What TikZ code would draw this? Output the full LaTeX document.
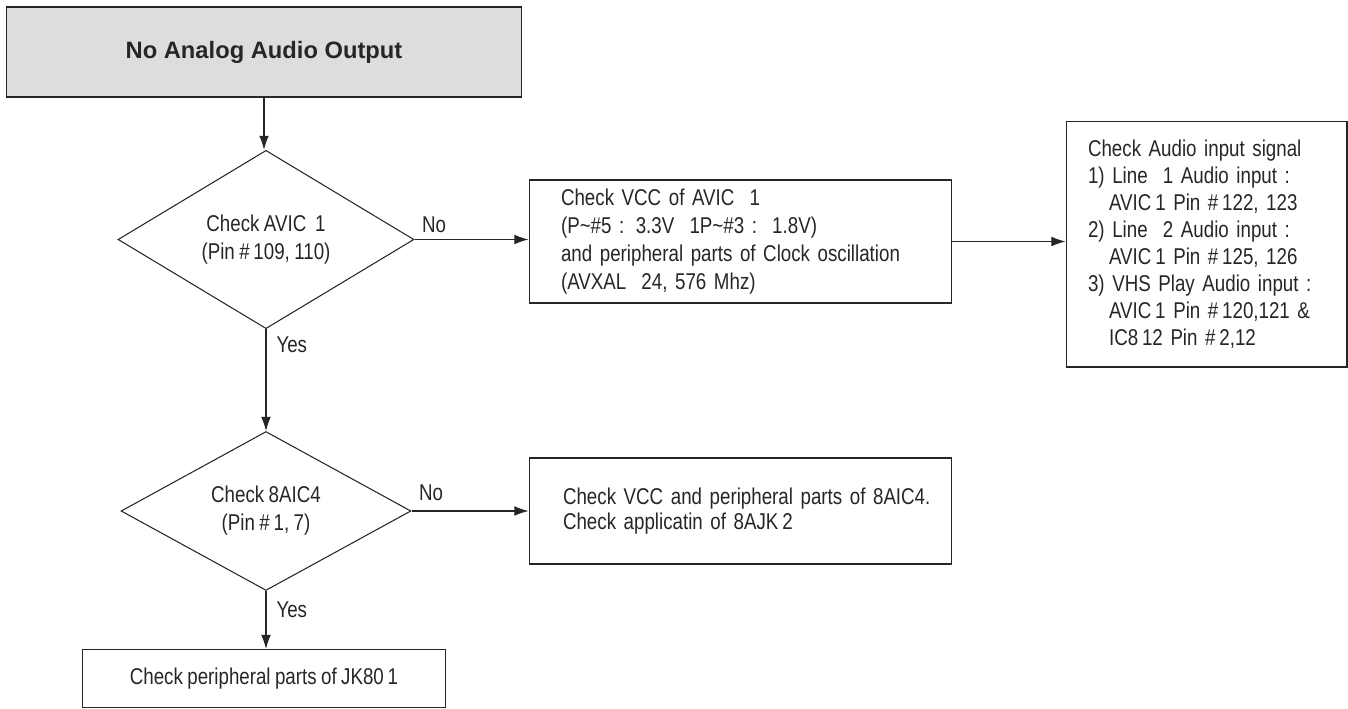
\documentclass[tikz,border=0pt]{standalone}
\usepackage{fontspec}
\setmainfont{Liberation Sans}[FakeStretch=0.82, WordSpace=0.85]
\newfontfamily\titlefont{Liberation Sans}
\usetikzlibrary{shapes.geometric,arrows.meta}
\definecolor{titlegray}{HTML}{DCDDDF}

\begin{document}
\begin{tikzpicture}[x=0.02cm, y=-0.02cm, line width=0.6pt, color=black!85,
  >={Latex[length=8pt,width=5.5pt]},
  txt/.style={font=\fontsize{13}{#1}\selectfont},
  txt/.default=16pt,
  box/.style={draw, rectangle, inner ysep=0pt, align=left},
  chk/.style={draw, diamond, inner sep=0pt, align=center, txt},
  lbl/.style={inner sep=0pt, anchor=base west, txt}]
  \useasboundingbox (0,0) rectangle (1348,709);

  \node[draw, fill=titlegray, minimum width=10.32cm, minimum height=1.8cm,
    font=\titlefont\bfseries\fontsize{13.5}{16}\selectfont] (start) at (264,52) {No Analog Audio Output};

  % decisions
  \node[chk, minimum width=5.92cm, minimum height=3.38cm] (chk1) at (266,239.5)
    {Check AVIC\ \ 1\\(Pin \#\,109, 110)};
  \node[chk, minimum width=5.8cm, minimum height=3.16cm] (chk2) at (266,511)
    {Check 8AIC4\\(Pin \#\,1, 7)};

  % actions
  \node[box, txt, text width=7.18cm, inner xsep=0.64cm, minimum height=2.46cm] (vcc1) at (740.5,241.5)
    {Check VCC of AVIC\ \ 1\\
     (P\textasciitilde\#5 : 3.3V\ \ 1P\textasciitilde\#3 :\ \ 1.8V)\\
     and peripheral parts of Clock oscillation\\
     (AVXAL\ \ 24, 576 Mhz)};
  \node[box, txt=15.4pt, text width=4.74cm, inner xsep=0.44cm, minimum height=4.91cm] (sig) at (1206.5,244.25)
    {Check Audio input signal\\
     1) Line\ \ 1 Audio input :\\
     \hspace*{12pt}AVIC\,1 Pin \#\,122, 123\\
     2) Line\ \ 2 Audio input :\\
     \hspace*{12pt}AVIC\,1 Pin \#\,125, 126\\
     3) VHS Play Audio input :\\
     \hspace*{12pt}AVIC\,1 Pin \#\,120,121 \&\\
     \hspace*{12pt}IC8\,12 Pin \#\,2,12};
  \node[box, txt=14pt, text width=7.1cm, inner xsep=0.68cm, minimum height=2.12cm] (vcc2) at (740.5,511)
    {\mbox{Check VCC and peripheral parts of 8AIC4.}\\
     Check applicatin of 8AJK\,2};
  \node[box, txt, align=center, minimum width=7.28cm, minimum height=1.16cm] (jk) at (264,678.5)
    {Check peripheral parts of JK80\,1};

  \draw[->] (start) -- (start |- chk1.north);
  \draw[->] (chk1.east) -- (chk1.east -| vcc1.west);
  \draw[->] (vcc1.east) -- (vcc1.east -| sig.west);
  \draw[->] (chk1.south) -- (chk2.north);
  \draw[->] (chk2.east) -- (chk2.east -| vcc2.west);
  \draw[->] (chk2.south) -- (chk2.south |- jk.north);

  \node[lbl] (no1) at ([shift={(7,-7)}]chk1.east) {No};
  \node[lbl] (no2) at ([shift={(7,-11)}]chk2.east) {No};
  \node[lbl] (yes1) at ([shift={(10,23)}]chk1.south) {Yes};
  \node[lbl] (yes2) at ([shift={(10,26)}]chk2.south) {Yes};
\end{tikzpicture}
\end{document}
